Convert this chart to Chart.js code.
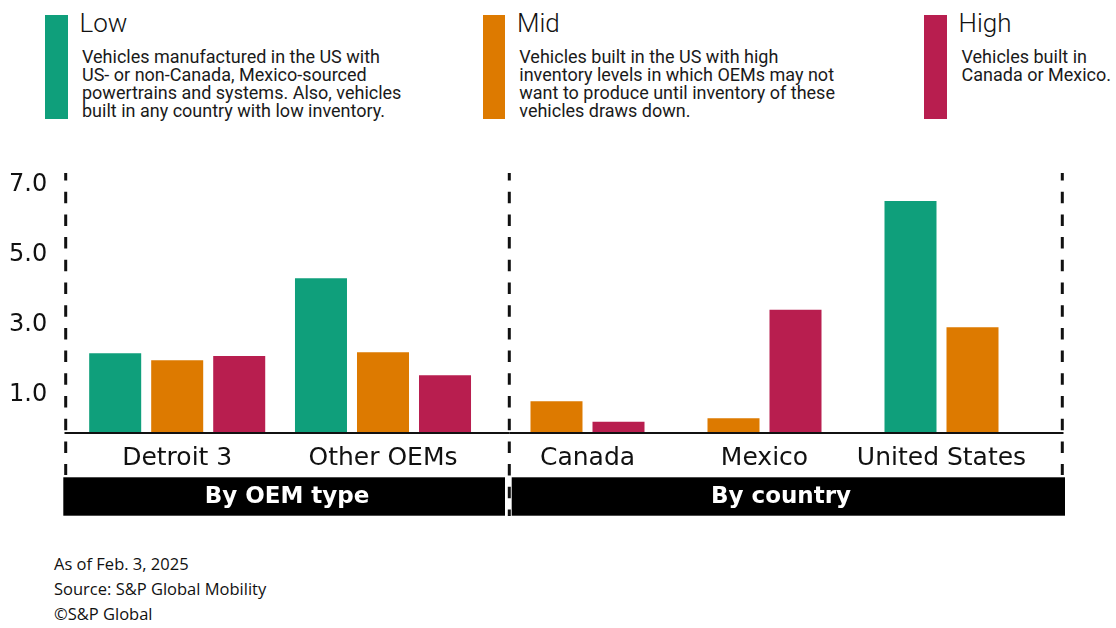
<!DOCTYPE html>
<html>
<head>
<meta charset="utf-8">
<script src="https://cdn.jsdelivr.net/npm/chart.js@4.4.1/dist/chart.umd.min.js"></script>
<style>
  html, body { margin: 0; padding: 0; background: #fff; }
  body { width: 1116px; height: 628px; position: relative; overflow: hidden; }
  .sw { position: absolute; top: 15px; width: 22.7px; height: 104px; }
  .lt { position: absolute; top: 10px; font-family: Roboto, sans-serif; font-size: 26px; line-height: 26px; color: #111; font-weight: 300; white-space: nowrap; }
  .ld { position: absolute; top: 48.3px; font-family: Roboto, sans-serif; font-size: 18px; line-height: 17.8px; color: #1a1a1a; white-space: nowrap; }
  .fn { position: absolute; left: 54px; top: 551px; font-family: "Open Sans", sans-serif; font-size: 16.5px; line-height: 25px; color: #111; white-space: nowrap; }
  canvas { position: absolute; top: 150px; }
</style>
</head>
<body>
<div id="legend"></div>
<canvas id="cA" width="520" height="380" style="left:0px;width:520px;height:380px;"></canvas>
<canvas id="cB" width="636" height="380" style="left:480px;width:636px;height:380px;"></canvas>
<div class="fn" id="notes"></div>
<script>
// ---- data ----
const oemCategories = ['Detroit 3', 'Other OEMs'];
const countryCategories = ['Canada', 'Mexico', 'United States'];
const seriesNames = ['Low', 'Mid', 'High'];
const lowOem = [2.25, 4.39];
const midOem = [2.05, 2.28];
const highOem = [2.17, 1.62];
const lowCountry = [null, null, 6.6];
const midCountry = [0.88, 0.39, 2.99];
const highCountry = [0.29, 3.49, null];
const yTickValues = [1, 3, 5, 7];
const sectionLabels = ['By OEM type', 'By country'];
const seriesDescriptions = [
  ['Vehicles manufactured in the US with', 'US- or non-Canada, Mexico-sourced', 'powertrains and systems. Also, vehicles', 'built in any country with low inventory.'],
  ['Vehicles built in the US with high', 'inventory levels in which OEMs may not', 'want to produce until inventory of these', 'vehicles draws down.'],
  ['Vehicles built in', 'Canada or Mexico.']
];
const notes = ['As of Feb. 3, 2025', 'Source: S&P Global Mobility', '\u00A9S&P Global'];

// ---- styles ----
const colors = ['#0f9f7b', '#dd7a00', '#b81e4f'];
const legendX = [{sw: 45, t: 79.5, d: 82}, {sw: 482.8, t: 517, d: 519.3}, {sw: 924, t: 958.5, d: 961.5}];

const leg = document.getElementById('legend');
seriesNames.forEach((n, i) => {
  const sw = document.createElement('div'); sw.className = 'sw';
  sw.style.left = legendX[i].sw + 'px'; sw.style.background = colors[i]; leg.appendChild(sw);
  const t = document.createElement('div'); t.className = 'lt'; t.style.left = legendX[i].t + 'px'; t.textContent = n; leg.appendChild(t);
  const d = document.createElement('div'); d.className = 'ld'; d.style.left = legendX[i].d + 'px';
  d.innerHTML = seriesDescriptions[i].map(s => s.replace(/&/g, '&amp;')).join('<br>'); leg.appendChild(d);
});
document.getElementById('notes').innerHTML = notes.map(s => s.replace(/&/g, '&amp;')).join('<br>');

const TOP_OFF = 150;
function drawDashed(ctx, x, y0, y1) {
  ctx.save();
  ctx.strokeStyle = '#111'; ctx.lineWidth = 3;
  ctx.setLineDash([11.5, 11.2]); ctx.lineDashOffset = 4;
  ctx.beginPath(); ctx.moveTo(x, y0); ctx.lineTo(x, y1); ctx.stroke();
  ctx.restore();
}
function drawBase(ctx, chart, x0, x1) {
  const y = chart.scales.y.getPixelForValue(0) + 1;
  ctx.save(); ctx.strokeStyle = '#111'; ctx.lineWidth = 2;
  ctx.beginPath(); ctx.moveTo(x0, y); ctx.lineTo(x1, y); ctx.stroke(); ctx.restore();
}
function drawSection(ctx, x0, x1, tx, label) {
  ctx.save();
  ctx.fillStyle = '#000';
  ctx.fillRect(x0, 477.3 - TOP_OFF, x1 - x0, 38.4);
  ctx.fillStyle = '#fff';
  ctx.font = 'bold 23px "DejaVu Sans"';
  ctx.textAlign = 'center'; ctx.textBaseline = 'middle';
  ctx.fillText(label, tx, 497 - TOP_OFF);
  ctx.restore();
}

function baseOptions(catPct, yAxisWidth, padL, padR, showY) {
  return {
    responsive: false,
    animation: false,
    layout: { padding: { left: padL, right: padR, top: 173 - TOP_OFF, bottom: 0 } },
    plugins: { legend: { display: false }, tooltip: { enabled: false } },
    datasets: { bar: { categoryPercentage: catPct, barPercentage: 0.8387, skipNull: true } },
    scales: {
      x: {
        type: 'category',
        grid: { display: false, drawTicks: false },
        border: { display: false },
        ticks: { font: { family: 'DejaVu Sans', size: 25 }, color: '#111', padding: 11, autoSkip: false, maxRotation: 0 },
        afterFit: (a) => { a.height = 98; }
      },
      y: {
        display: showY,
        min: 0, max: 7.4,
        grid: { display: false, drawTicks: false },
        border: { display: false },
        afterBuildTicks: (a) => { a.ticks = yTickValues.map(v => ({ value: v })); },
        ticks: { font: { family: 'DejaVu Sans', size: 24 }, color: '#111', padding: 3, crossAlign: 'far', labelOffset: -2.5,
                 callback: (v) => Number(v).toFixed(1) },
        afterFit: (a) => { if (showY) a.width = yAxisWidth; }
      }
    }
  };
}

function makeDatasets(l, m, h) {
  return [l, m, h].map((d, i) => ({ label: seriesNames[i], data: d, backgroundColor: colors[i], borderWidth: 0 }));
}

new Chart(document.getElementById('cA'), {
  type: 'bar',
  data: { labels: oemCategories, datasets: makeDatasets(lowOem, midOem, highOem) },
  options: baseOptions(0.904, 74.3 - 9, 9, 520 - 485.9, true),
  plugins: [{
    id: 'decoA',
    afterDraw(chart) {
      const ctx = chart.ctx;
      drawBase(ctx, chart, 64.5, 509.3);
      drawDashed(ctx, 65.7, 173 - TOP_OFF, 475 - TOP_OFF);
      drawSection(ctx, 63.3, 505, 287, sectionLabels[0]);
    }
  }]
});

const BX = 480;
new Chart(document.getElementById('cB'), {
  type: 'bar',
  data: { labels: countryCategories, datasets: makeDatasets(lowCountry, midCountry, highCountry) },
  options: baseOptions(0.7006, 0, 499 - BX, 1116 - 1030, false),
  plugins: [{
    id: 'decoB',
    afterDraw(chart) {
      const ctx = chart.ctx;
      drawBase(ctx, chart, 509.3 - BX, 1063.5 - BX);
      drawSection(ctx, 511.7 - BX, 1065 - BX, 781 - BX, sectionLabels[1]);
      drawDashed(ctx, 509.3 - BX, 173 - TOP_OFF, 516 - TOP_OFF);
      drawDashed(ctx, 1062.3 - BX, 173 - TOP_OFF, 475 - TOP_OFF);
    }
  }]
});
</script>
</body>
</html>
